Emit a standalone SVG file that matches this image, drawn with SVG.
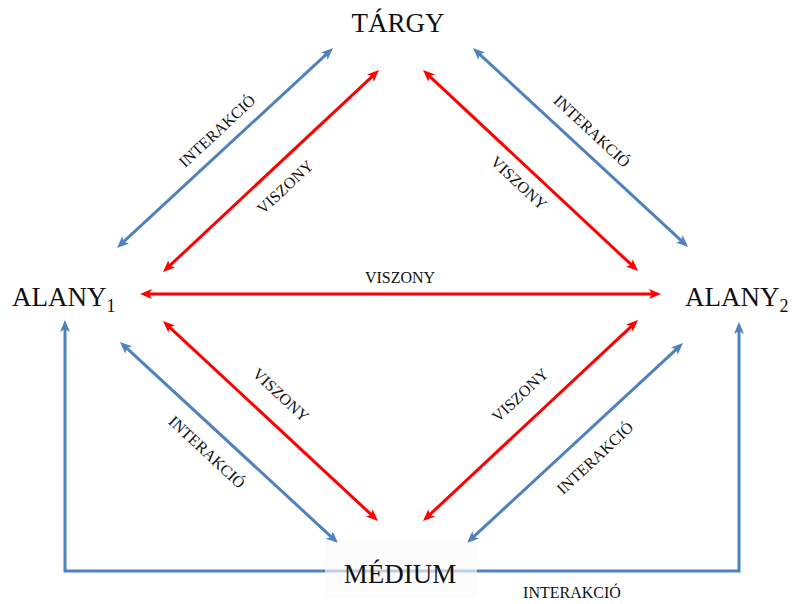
<svg xmlns="http://www.w3.org/2000/svg" width="794" height="604" viewBox="0 0 794 604">
<style>
.big{font-family:"Liberation Serif","Times New Roman",serif;font-size:27px;fill:#111}
.sub{font-family:"Liberation Serif","Times New Roman",serif;font-size:18px;fill:#111}
.lbl{font-family:"Liberation Serif","Times New Roman",serif;font-size:16px;fill:#111;text-anchor:middle}
.blue{stroke:#4F81BD;stroke-width:3;fill:none;marker-start:url(#ab);marker-end:url(#ab)}
.red{stroke:#FF0000;stroke-width:3;fill:none;marker-start:url(#ar);marker-end:url(#ar)}
</style>
<defs>
<marker id="ab" viewBox="0 0 12 10" refX="5" refY="5" markerWidth="12" markerHeight="10" markerUnits="userSpaceOnUse" orient="auto-start-reverse">
<path d="M0,0 L12,5 L0,10 L3,5 z" fill="#4F81BD"/>
</marker>
<marker id="ar" viewBox="0 0 12 10" refX="5" refY="5" markerWidth="12" markerHeight="10" markerUnits="userSpaceOnUse" orient="auto-start-reverse">
<path d="M0,0 L12,5 L0,10 L3,5 z" fill="#FF0000"/>
</marker>
</defs>
<rect width="794" height="604" fill="#fff"/>
<g id="connectors">
<line class="blue" x1="122.1" y1="243.2" x2="327.9" y2="52.8"/>
<line class="red" x1="168.1" y1="267.2" x2="373.9" y2="74.8"/>
<line class="red" x1="428.1" y1="74.8" x2="632.9" y2="266.2"/>
<line class="blue" x1="478.1" y1="52.8" x2="682.9" y2="242.2"/>
<line class="red" x1="147" y1="294" x2="654" y2="294"/>
<line class="red" x1="168.1" y1="325.8" x2="372.9" y2="516.2"/>
<line class="blue" x1="125.1" y1="346.7" x2="332.9" y2="538.3"/>
<line class="red" x1="632.9" y1="324.8" x2="428.1" y2="516.2"/>
<line class="blue" x1="677.9" y1="347.8" x2="472.1" y2="538.2"/>
<path class="blue" d="M65,327 L65,571 L739,571 L739,329"/>
<g id="labels">
<g transform="translate(217,131) rotate(-43)"><text class="lbl" x="0" y="5.5">INTERAKCIÓ</text></g>
<g transform="translate(285,187) rotate(-43)"><text class="lbl" x="0" y="5.5">VISZONY</text></g>
<g transform="translate(519,183) rotate(43)"><text class="lbl" x="0" y="5.5">VISZONY</text></g>
<g transform="translate(592,131) rotate(43)"><text class="lbl" x="0" y="5.5">INTERAKCIÓ</text></g>
<text class="lbl" x="400" y="283">VISZONY</text>
<g transform="translate(281,395) rotate(43)"><text class="lbl" x="0" y="5.5">VISZONY</text></g>
<g transform="translate(207,452) rotate(43)"><text class="lbl" x="0" y="5.5">INTERAKCIÓ</text></g>
<g transform="translate(520,395) rotate(-43)"><text class="lbl" x="0" y="5.5">VISZONY</text></g>
<g transform="translate(595,458) rotate(-43)"><text class="lbl" x="0" y="5.5">INTERAKCIÓ</text></g>
<text class="lbl" x="572" y="598">INTERAKCIÓ</text>
</g>
</g>
<g id="targy"><text class="big" x="398" y="32" text-anchor="middle">TÁRGY</text></g>
<g id="alany1"><text class="big" x="12" y="306">ALANY<tspan class="sub" dy="6">1</tspan></text></g>
<g id="alany2"><text class="big" x="685" y="306">ALANY<tspan class="sub" dy="6">2</tspan></text></g>
<g id="medium">
<rect x="325" y="542" width="152" height="56" fill="#fbfbfb" fill-opacity="0.65"/>
<text class="big" x="400" y="583" text-anchor="middle">MÉDIUM</text>
</g>
</svg>
